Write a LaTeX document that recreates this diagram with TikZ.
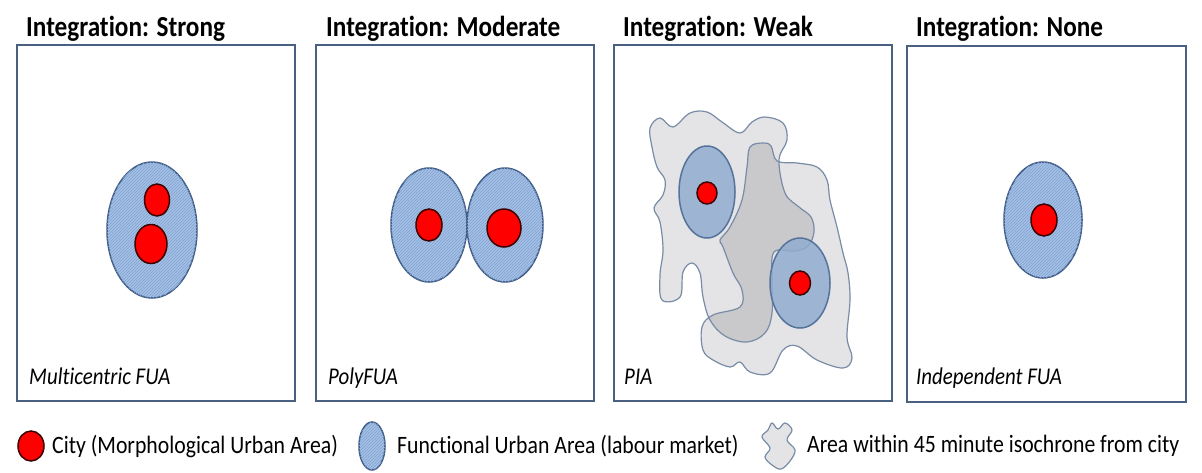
\documentclass[tikz,border=0pt]{standalone}
\usepackage{fontspec}
\setmainfont{Carlito}[FakeStretch=0.87,Ligatures=NoCommon]
\usepackage{tikz}
\usetikzlibrary{patterns}
\definecolor{framecol}{RGB}{74,96,128}
\definecolor{fuablue}{RGB}{163,192,230}
\definecolor{fuahatch}{RGB}{132,162,206}
\definecolor{fuaedge}{RGB}{62,92,135}
\definecolor{cityred}{RGB}{255,0,0}
\definecolor{cityedge}{RGB}{60,0,0}
\definecolor{isolight}{RGB}{228,228,231}
\definecolor{isodark}{RGB}{201,201,204}
\definecolor{isoedge}{RGB}{120,140,165}
\definecolor{piablue}{RGB}{145,172,208}
\definecolor{piaedge}{RGB}{85,115,155}

\begin{document}
\begin{tikzpicture}[x=1pt,y=-1pt,
	panel/.style={draw=framecol,line width=2pt},
	fua/.style={draw=fuaedge,line width=1.5pt,fill=fuablue,postaction={pattern=north east lines,pattern color=fuahatch}},
	city/.style={draw=cityedge,line width=1.5pt,fill=cityred},
	iso/.style={draw=isoedge,line width=1.2pt,fill=isolight},
	piafua/.style={draw=piaedge,line width=1.5pt,fill=piablue,fill opacity=0.85},
	title/.style={anchor=base west,inner sep=0pt,font=\fontsize{29}{33}\selectfont\bfseries},
	kind/.style={anchor=base west,inner sep=0pt,font=\fontsize{24}{28}\selectfont\itshape},
	key/.style={anchor=west,inner sep=0pt,font=\fontsize{25}{29}\selectfont}]
			\useasboundingbox (0,0) rectangle (1202,472);
			
			% panels
			\draw[panel] (17,45) rectangle (295,401);
			\draw[panel] (316,45) rectangle (594,401);
			\draw[panel] (614,45) rectangle (892,401);
			\draw[panel] (907,46) rectangle (1186,402);
			
			\node[title] (t1) at (26,36) {Integration: Strong};
			\node[title] (t2) at (326,36) {Integration: Moderate};
			\node[title] (t3) at (623,36) {Integration: Weak};
			\node[title] (t4) at (916,36) {Integration: None};
			
			% strong
			\draw[fua] (152,230) ellipse [x radius=45,y radius=68];
			\draw[city] (157,200) ellipse [x radius=12.5,y radius=16];
			\draw[city] (151,244) ellipse [x radius=16,y radius=19.5];
			\node[kind] (k1) at (29,384) {Multicentric FUA};
			
			% moderate
			\draw[fua] (429,225) ellipse [x radius=38,y radius=57];
			\draw[fua] (505,225) ellipse [x radius=38,y radius=57];
			\draw[city] (429,225) ellipse [x radius=13,y radius=16];
			\draw[city] (504,228) ellipse [x radius=17,y radius=19];
			\node[kind] (k2) at (328,384) {PolyFUA};
			
			% weak
			\path[save path=\isoA] plot[smooth cycle,tension=0.6] coordinates {(650,128) (660,118) (673,127) (690,113) (707,112) (722,122) (740,133) (752,122) (765,117) (783,123) (787,140) (779,160) (785,193) (799,207) (811,217) (814,232) (808,246) (795,251) (774,252) (772,280) (772,313) (765,333) (747,342) (725,336) (710,320) (703,297) (700,273) (692,263) (683,272) (680,297) (662,300) (660,275) (663,250) (660,222) (654,208) (663,195) (665,180) (657,167) (652,147)};
			\path[save path=\isoB] plot[smooth cycle,tension=0.6] coordinates {(763,143) (771,146) (777,161) (797,163) (817,167) (827,180) (830,200) (837,227) (843,253) (848,273) (850,300) (847,337) (852,358) (843,368) (817,360) (797,346) (783,350) (770,373) (750,372) (740,362) (730,367) (713,360) (703,350) (702,327) (713,315) (740,307) (742,290) (733,273) (723,247) (720,240) (730,227) (742,200) (747,167) (750,147)};
			\fill[isolight,use path=\isoA];
			\fill[isolight,use path=\isoB];
			\begin{scope}
				\clip[use path=\isoA];
				\fill[isodark,use path=\isoB];
			\end{scope}
			\draw[isoedge,line width=1.2pt,use path=\isoA];
			\draw[isoedge,line width=1.2pt,use path=\isoB];
			\draw[piafua] (707,192) ellipse [x radius=28,y radius=46];
			\draw[piafua] (800,283) ellipse [x radius=30,y radius=45];
			\draw[city] (707,193) ellipse [x radius=10,y radius=11];
			\draw[city] (800,283) ellipse [x radius=10.5,y radius=12];
			\node[kind] (k3) at (624,384) {PIA};
			
			% none
			\draw[fua] (1043,220) ellipse [x radius=39,y radius=58];
			\draw[city] (1044,220) ellipse [x radius=13,y radius=16];
			\node[kind] (k4) at (916,384) {Independent FUA};
			
			% legend
			\draw[city] (31,446) ellipse [x radius=13,y radius=15];
			\node[key] (l1) at (52,446) {City (Morphological Urban Area)};
			\draw[fua] (372,446) ellipse [x radius=13,y radius=24];
			\node[key] (l2) at (397,446) {Functional Urban Area (labour market)};
			\draw[iso] plot[smooth cycle,tension=0.6] coordinates {(772,423) (778,429) (785,423) (792,430) (787,440) (795,450) (790,461) (781,469) (772,465) (765,457) (770,448) (762,437) (768,430)};
			\node[key] (l3) at (807,446) {Area within 45 minute isochrone from city};
		\end{tikzpicture}
\end{document}
